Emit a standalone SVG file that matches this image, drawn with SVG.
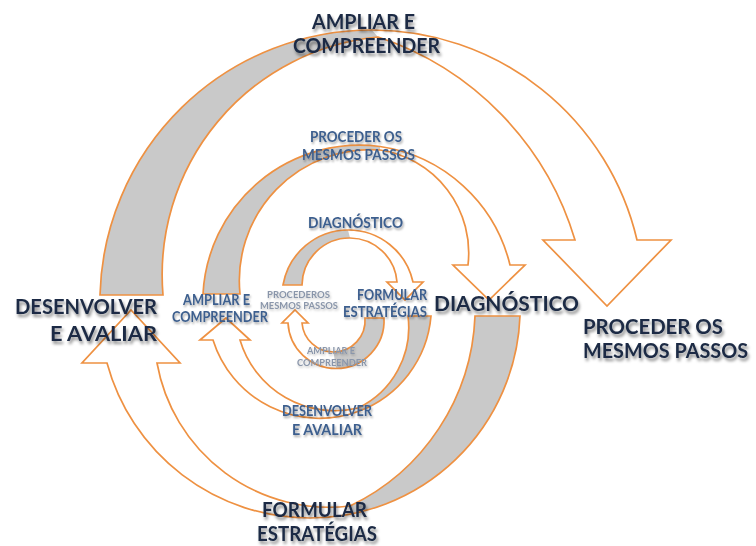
<svg xmlns="http://www.w3.org/2000/svg" width="756" height="546" viewBox="0 0 756 546">
<defs>
<style>
.g{fill:#C9C9C9;stroke:none}
.a{fill:none;stroke:#EE9142;stroke-width:1.7;stroke-linejoin:miter}
text{font-family:Lato,"Liberation Sans",sans-serif;font-weight:bold}
.big{font-size:20px;fill:#1C2B44;filter:url(#sh)}
.mid{font-size:14.5px;fill:#3D5F8E;filter:url(#sh2)}
.sm{font-size:9.5px;fill:#8A96AA;filter:url(#sh3)}
</style>
<filter id="sh" x="-10%" y="-30%" width="130%" height="180%"><feDropShadow dx="1.5" dy="3" stdDeviation="1.6" flood-color="#000" flood-opacity="0.45"/></filter>
<filter id="sh2" x="-10%" y="-30%" width="130%" height="180%"><feDropShadow dx="1" dy="2" stdDeviation="1.2" flood-color="#000" flood-opacity="0.35"/></filter>
<filter id="sh3" x="-10%" y="-30%" width="130%" height="180%"><feDropShadow dx="1" dy="1.5" stdDeviation="1" flood-color="#000" flood-opacity="0.25"/></filter>
</defs>
<rect width="756" height="546" fill="#fff"/>
<g id="connectors">
  <g id="outer-top">
    <path class="g" d="M100,295 A272 272 0 0 1 372,30 L378,37 A239 239 0 0 0 163,295 Z"/>
    <path class="a" d="M100,295 A272 272 0 0 1 372,30 A272 272 0 0 1 637,240 L671,240 L607,306 L543,240 L575,240 A306 306 0 0 0 378,37 A239 239 0 0 0 163,295 Z"/>
  </g>
  <g id="outer-bottom">
    <path class="g" d="M475,316 L520,316 A210 210 0 0 1 350,514 L350,506 A220 220 0 0 0 475,316 Z"/>
    <path class="a" d="M475,316 L520,316 A210 210 0 0 1 310,518 A210 210 0 0 1 107,363 L82,363 L131,310 L180,363 L157,363 A175 175 0 0 0 350,506 A220 220 0 0 0 475,316 Z"/>
  </g>
  <g id="middle-top">
    <path class="g" d="M203,294 A157 157 0 0 1 380,146.5 L380,150 A131 131 0 0 0 240,294 Z"/>
    <path class="a" d="M203,294 A157 157 0 0 1 380,146.5 A157 157 0 0 1 510,265 L525,265 L489,300 L453,265 L468,265 A104 104 0 0 0 380,150 A131 131 0 0 0 240,294 Z"/>
  </g>
  <g id="middle-bottom">
    <path class="g" d="M408,316 L431,316 A111.7 111.7 0 0 1 358,411.5 L358,408 A89.4 89.4 0 0 0 408,316 Z"/>
    <path class="a" d="M408,316 L431,316 A111.7 111.7 0 0 1 358,411.5 A111.7 111.7 0 0 1 213,340 L200,340 L226,318 L250,340 L240,340 A99 99 0 0 0 358,408 A89.4 89.4 0 0 0 408,316 Z"/>
  </g>
  <g id="inner-top">
    <path class="g" d="M283,285 A66.3 66.3 0 0 1 348,230 L350,238 A47.6 47.6 0 0 0 302,285 Z"/>
    <path class="a" d="M283,285 A66.3 66.3 0 0 1 348,230 A66.3 66.3 0 0 1 413,282 L423,282 L405,300 L387,282 L397,282 A47.6 47.6 0 0 0 350,238 A47.6 47.6 0 0 0 302,285 Z"/>
  </g>
  <g id="inner-bottom">
    <path class="g" d="M365,318 L384,318 A48 48 0 0 1 336,368.5 L333.5,352 A31.6 31.6 0 0 0 365,318 Z"/>
    <path class="a" d="M365,318 L384,318 A48 48 0 0 1 336,368.5 A48 48 0 0 1 288,323 L282,323 L295,310 L308,323 L302,323 A31.6 31.6 0 0 0 333.5,352 A31.6 31.6 0 0 0 365,318 Z"/>
  </g>
</g>
<g id="big-ampliar"><text class="big" x="312" y="29" textLength="103" lengthAdjust="spacingAndGlyphs">AMPLIAR E</text><text class="big" x="293" y="53" textLength="147" lengthAdjust="spacingAndGlyphs">COMPREENDER</text></g>
<g id="big-desenvolver"><text class="big" x="15" y="314" textLength="142" lengthAdjust="spacingAndGlyphs">DESENVOLVER</text><text class="big" x="50" y="341" textLength="107" lengthAdjust="spacingAndGlyphs">E AVALIAR</text></g>
<g id="big-diagnostico"><text class="big" x="434" y="311" textLength="145" lengthAdjust="spacingAndGlyphs">DIAGNÓSTICO</text></g>
<g id="big-proceder"><text class="big" x="583" y="334" textLength="140" lengthAdjust="spacingAndGlyphs">PROCEDER OS</text><text class="big" x="583" y="358" textLength="165" lengthAdjust="spacingAndGlyphs">MESMOS PASSOS</text></g>
<g id="big-formular"><text class="big" x="262" y="517" textLength="105" lengthAdjust="spacingAndGlyphs">FORMULAR</text><text class="big" x="257" y="541" textLength="120" lengthAdjust="spacingAndGlyphs">ESTRATÉGIAS</text></g>
<g id="mid-proceder"><text class="mid" x="310" y="142" textLength="92" lengthAdjust="spacingAndGlyphs">PROCEDER OS</text><text class="mid" x="302" y="160" textLength="113" lengthAdjust="spacingAndGlyphs">MESMOS PASSOS</text></g>
<g id="mid-ampliar"><text class="mid" x="183" y="305" textLength="67" lengthAdjust="spacingAndGlyphs">AMPLIAR E</text><text class="mid" x="172" y="322" textLength="96" lengthAdjust="spacingAndGlyphs">COMPREENDER</text></g>
<g id="mid-desenvolver"><text class="mid" x="282" y="416" textLength="90" lengthAdjust="spacingAndGlyphs">DESENVOLVER</text><text class="mid" x="292" y="435" textLength="70" lengthAdjust="spacingAndGlyphs">E AVALIAR</text></g>
<g id="inner-diagnostico"><text class="mid" x="308" y="228" textLength="95" lengthAdjust="spacingAndGlyphs">DIAGNÓSTICO</text></g>
<g id="inner-formular"><text class="mid" x="357" y="300" textLength="70" lengthAdjust="spacingAndGlyphs">FORMULAR</text><text class="mid" x="343" y="317" textLength="84" lengthAdjust="spacingAndGlyphs">ESTRATÉGIAS</text></g>
<g id="inner-proceder"><text class="sm" x="267" y="298" textLength="63" lengthAdjust="spacingAndGlyphs">PROCEDEROS</text><text class="sm" x="260" y="309" textLength="78" lengthAdjust="spacingAndGlyphs">MESMOS PASSOS</text></g>
<g id="inner-ampliar"><text class="sm" x="307" y="354" textLength="48" lengthAdjust="spacingAndGlyphs">AMPLIAR E</text><text class="sm" x="297" y="366" textLength="70" lengthAdjust="spacingAndGlyphs">COMPREENDER</text></g>
</svg>
